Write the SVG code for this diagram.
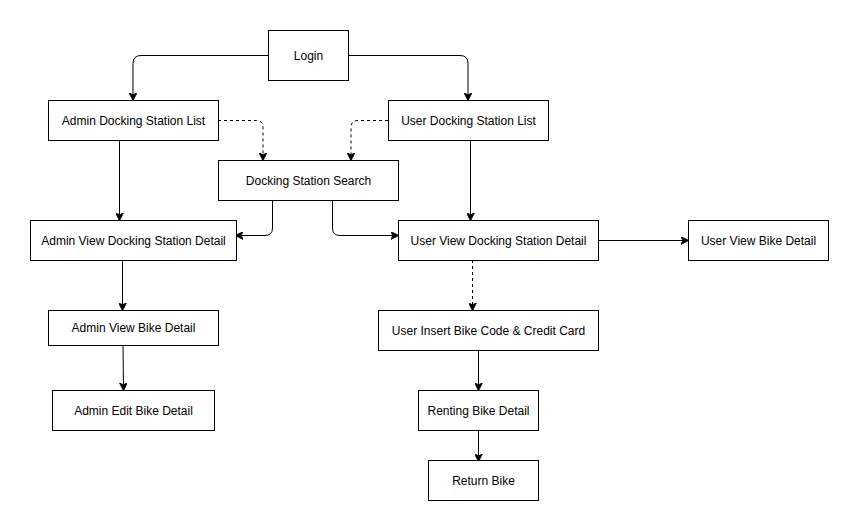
<svg xmlns="http://www.w3.org/2000/svg" width="859" height="531" viewBox="0 0 859 531">
<style>
.n rect{fill:#fff;stroke:#000;stroke-width:1}
.n text{font-family:"Liberation Sans",Arial,sans-serif;font-size:12px;fill:#000;text-anchor:middle;dominant-baseline:central}
.e path{fill:none;stroke:#000;stroke-width:1}
.e .d{stroke-dasharray:3 3}
</style>
<defs>
<marker id="a" viewBox="0 0 10 10" refX="9" refY="5" markerWidth="8" markerHeight="8" markerUnits="userSpaceOnUse" orient="auto">
<path d="M0,0 L10,5 L0,10 L2.5,5 Z" fill="#000" stroke="#000" stroke-width="1"/>
</marker>
</defs>
<rect width="859" height="531" fill="#fff"/>
<g class="e">
<path d="M268,55.5 H141 Q133,55.5 133,63.5 V100" marker-end="url(#a)"/>
<path d="M348,55.5 H460 Q468,55.5 468,63.5 V100" marker-end="url(#a)"/>
<path class="d" d="M218,120.5 H256 Q263,120.5 263,127.5 V160" marker-end="url(#a)"/>
<path class="d" d="M388,120.5 H358 Q351,120.5 351,127.5 V160" marker-end="url(#a)"/>
<path d="M119.5,140 V220" marker-end="url(#a)"/>
<path d="M470.5,140 V220" marker-end="url(#a)"/>
<path d="M272.5,200 V228 Q272.5,235.5 265,235.5 H236" marker-end="url(#a)"/>
<path d="M332.5,200 V228 Q332.5,235.5 340,235.5 H398" marker-end="url(#a)"/>
<path d="M598,240.5 H688" marker-end="url(#a)"/>
<path d="M122.5,260 V310" marker-end="url(#a)"/>
<path d="M123,345 L123.5,390" marker-end="url(#a)"/>
<path class="d" d="M472.5,260 V310" marker-end="url(#a)"/>
<path d="M478.5,350 V390" marker-end="url(#a)"/>
<path d="M478.5,430 V461" marker-end="url(#a)"/>
</g>
<g id="login" class="n"><rect x="268.5" y="30.5" width="80" height="50"/><text x="308.5" y="55.5">Login</text></g>
<g id="admin-dsl" class="n"><rect x="48.5" y="100.5" width="170" height="40"/><text x="133.5" y="120.5">Admin Docking Station List</text></g>
<g id="user-dsl" class="n"><rect x="388.5" y="100.5" width="160" height="40"/><text x="468.5" y="120.5">User Docking Station List</text></g>
<g id="search" class="n"><rect x="218.5" y="160.5" width="180" height="40"/><text x="308.5" y="180.5">Docking Station Search</text></g>
<g id="admin-vdsd" class="n"><rect x="30.5" y="220.5" width="206" height="40"/><text x="133.5" y="240.5">Admin View Docking Station Detail</text></g>
<g id="user-vdsd" class="n"><rect x="398.5" y="220.5" width="200" height="40"/><text x="498.5" y="240.5">User View Docking Station Detail</text></g>
<g id="user-vbd" class="n"><rect x="688.5" y="220.5" width="140" height="40"/><text x="758.5" y="240.5">User View Bike Detail</text></g>
<g id="admin-vbd" class="n"><rect x="48.5" y="310.5" width="170" height="35"/><text x="133.5" y="328">Admin View Bike Detail</text></g>
<g id="admin-ebd" class="n"><rect x="52.5" y="390.5" width="162" height="40"/><text x="133.5" y="410.5">Admin Edit Bike Detail</text></g>
<g id="insert" class="n"><rect x="378.5" y="310.5" width="220" height="40"/><text x="488.5" y="330.5">User Insert Bike Code &amp; Credit Card</text></g>
<g id="renting" class="n"><rect x="418.5" y="390.5" width="120" height="40"/><text x="478.5" y="410.5">Renting Bike Detail</text></g>
<g id="return" class="n"><rect x="428.5" y="460.5" width="110" height="40"/><text x="483.5" y="480.5">Return Bike</text></g>
</svg>
